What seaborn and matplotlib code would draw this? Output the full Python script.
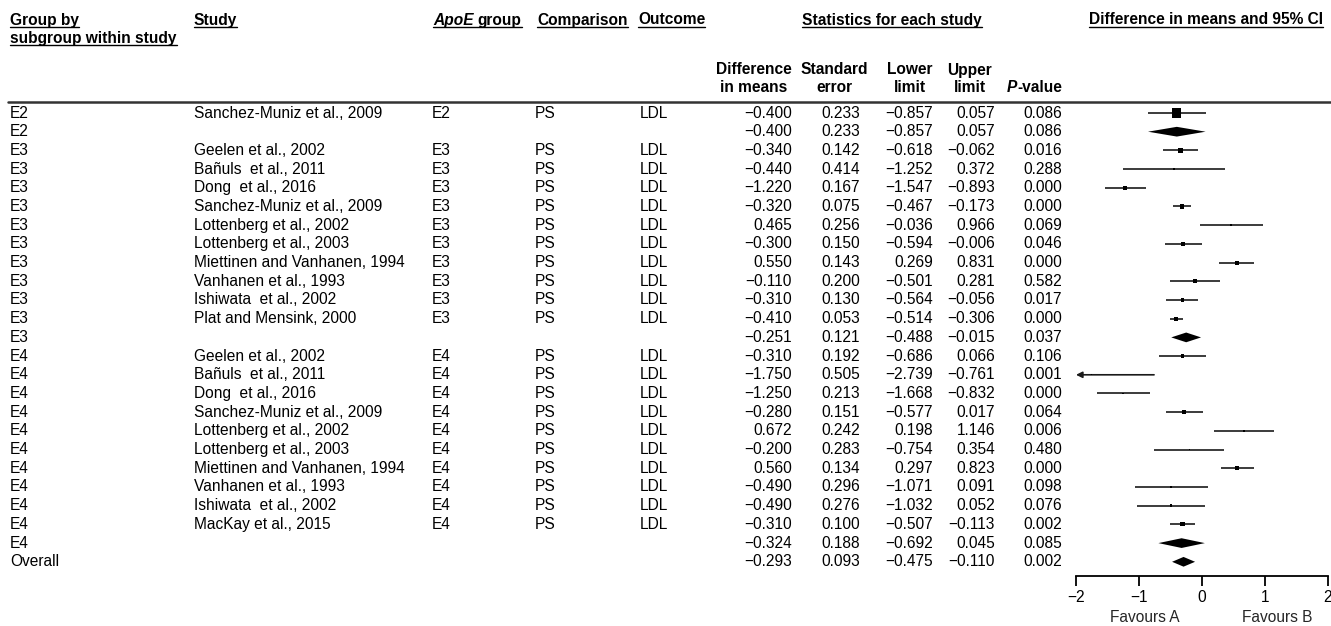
import matplotlib
matplotlib.use("Agg")
import matplotlib.pyplot as plt
import matplotlib.transforms as mtransforms
from matplotlib.patches import Polygon
from matplotlib.lines import Line2D
import pandas as pd
import seaborn as sns

# ---- data ----
groups = ["E2", "E2", "E3", "E3", "E3", "E3", "E3", "E3", "E3", "E3", "E3", "E3", "E3",
          "E4", "E4", "E4", "E4", "E4", "E4", "E4", "E4", "E4", "E4", "E4", "Overall"]
studies = ["Sanchez-Muniz et al., 2009", "",
           "Geelen et al., 2002", "Bañuls  et al., 2011", "Dong  et al., 2016",
           "Sanchez-Muniz et al., 2009", "Lottenberg et al., 2002", "Lottenberg et al., 2003",
           "Miettinen and Vanhanen, 1994", "Vanhanen et al., 1993", "Ishiwata  et al., 2002",
           "Plat and Mensink, 2000", "",
           "Geelen et al., 2002", "Bañuls  et al., 2011", "Dong  et al., 2016",
           "Sanchez-Muniz et al., 2009", "Lottenberg et al., 2002", "Lottenberg et al., 2003",
           "Miettinen and Vanhanen, 1994", "Vanhanen et al., 1993", "Ishiwata  et al., 2002",
           "MacKay et al., 2015", "", ""]
apoe = ["E2", ""] + ["E3"] * 10 + [""] + ["E4"] * 10 + ["", ""]
comparison = ["PS", ""] + ["PS"] * 10 + [""] + ["PS"] * 10 + ["", ""]
outcome = ["LDL", ""] + ["LDL"] * 10 + [""] + ["LDL"] * 10 + ["", ""]
diff = [-0.400, -0.400, -0.340, -0.440, -1.220, -0.320, 0.465, -0.300, 0.550, -0.110, -0.310,
        -0.410, -0.251, -0.310, -1.750, -1.250, -0.280, 0.672, -0.200, 0.560, -0.490, -0.490,
        -0.310, -0.324, -0.293]
se = [0.233, 0.233, 0.142, 0.414, 0.167, 0.075, 0.256, 0.150, 0.143, 0.200, 0.130, 0.053,
      0.121, 0.192, 0.505, 0.213, 0.151, 0.242, 0.283, 0.134, 0.296, 0.276, 0.100, 0.188, 0.093]
lower = [-0.857, -0.857, -0.618, -1.252, -1.547, -0.467, -0.036, -0.594, 0.269, -0.501, -0.564,
         -0.514, -0.488, -0.686, -2.739, -1.668, -0.577, 0.198, -0.754, 0.297, -1.071, -1.032,
         -0.507, -0.692, -0.475]
upper = [0.057, 0.057, -0.062, 0.372, -0.893, -0.173, 0.966, -0.006, 0.831, 0.281, -0.056,
         -0.306, -0.015, 0.066, -0.761, -0.832, 0.017, 1.146, 0.354, 0.823, 0.091, 0.052,
         -0.113, 0.045, -0.110]
pvals = [0.086, 0.086, 0.016, 0.288, 0.000, 0.000, 0.069, 0.046, 0.000, 0.582, 0.017, 0.000,
         0.037, 0.106, 0.001, 0.000, 0.064, 0.006, 0.480, 0.000, 0.098, 0.076, 0.002, 0.085,
         0.002]
is_summary = [False, True] + [False] * 10 + [True] + [False] * 10 + [True, True]
# relative box weights estimated from the square sizes (max = 100)
rel_weight = [100, 0, 22, 3, 20, 24, 4, 24, 18, 18, 16, 20, 0,
              18, 2, 3, 20, 6, 3, 20, 3, 7, 20, 0, 0]
axis_ticks = [-2, -1, 0, 1, 2]

df = pd.DataFrame({"group": groups, "study": studies, "apoe": apoe, "comparison": comparison,
                   "outcome": outcome, "diff": diff, "se": se, "lower": lower, "upper": upper,
                   "p": pvals, "summary": is_summary, "weight": rel_weight})
df["row"] = range(len(df))

sns.set_style("white")
plt.rcParams["font.family"] = ["Liberation Sans", "DejaVu Sans"]
FS = 11.2
INK = "#1a1a1a"

W, H = 1331, 626
fig = plt.figure(figsize=(W / 100, H / 100), dpi=100)


def fx(px):
    return px / W


def fy(py):
    return 1 - py / H


# forest axes: -2 at x=1076, 2 at x=1328; rows start at y=113, 18.7 px apart
row0, step = 113, 18.7
ax_top, ax_bot = 102, 576
ax = fig.add_axes([fx(1076), fy(ax_bot), fx(1328) - fx(1076), (ax_bot - ax_top) / H])
ax.set_xlim(axis_ticks[0], axis_ticks[-1])
ax.set_ylim((ax_bot - row0) / step, (ax_top - row0) / step)
ax.set_facecolor("none")

st = df[~df["summary"]]
xmin = axis_ticks[0]
for _, r in st.iterrows():
    lo = max(r["lower"], xmin)
    if r["lower"] < xmin:
        ax.annotate("", xy=(lo, r["row"]), xytext=(r["upper"], r["row"]),
                    arrowprops=dict(arrowstyle="-|>", color=INK, lw=1.2,
                                    mutation_scale=9, shrinkA=0, shrinkB=0))
    else:
        ax.hlines(r["row"], lo, r["upper"], color=INK, lw=1.2)

sns.scatterplot(data=st, x="diff", y="row", size="weight", sizes=(1.0, 44),
                size_norm=(2, 100), marker="s", color="black", edgecolor="none",
                legend=False, ax=ax, zorder=3)

for _, r in df[df["summary"]].iterrows():
    h = 0.26
    ax.add_patch(Polygon([(r["lower"], r["row"]), (r["diff"], r["row"] - h),
                          (r["upper"], r["row"]), (r["diff"], r["row"] + h)],
                         closed=True, color="black", lw=0))

for s in ["top", "right", "left"]:
    ax.spines[s].set_visible(False)
ax.spines["bottom"].set_color("black")
ax.spines["bottom"].set_linewidth(1.3)
ax.set_xticks(axis_ticks)
ax.set_xticklabels([f"{t}".replace("-", "\u2212") for t in axis_ticks], fontsize=FS)
ax.tick_params(axis="x", direction="out", length=7, width=1.3, pad=3, colors="black",
               bottom=True)
ax.set_yticks([])
ax.set_xlabel("")
ax.set_ylabel("")
fav = mtransforms.blended_transform_factory(ax.transData, fig.transFigure)
ax.text(-0.9, fy(617), "Favours A", transform=fav, ha="center", va="center", fontsize=FS)
ax.text(1.2, fy(617), "Favours B", transform=fav, ha="center", va="center", fontsize=FS)

# table columns: x in figure px, y in forest rows
tr = mtransforms.blended_transform_factory(fig.transFigure, ax.transData)


def num(v):
    return f"{v:.3f}".replace("-", "\u2212")


for _, r in df.iterrows():
    y = r["row"]
    kw = dict(transform=tr, va="center", fontsize=FS, color="black", clip_on=False)
    fig.text(fx(10), y, r["group"], ha="left", **kw)
    fig.text(fx(194), y, r["study"], ha="left", **kw)
    fig.text(fx(432), y, r["apoe"], ha="left", **kw)
    fig.text(fx(535), y, r["comparison"], ha="left", **kw)
    fig.text(fx(640), y, r["outcome"], ha="left", **kw)
    fig.text(fx(792), y, num(r["diff"]), ha="right", **kw)
    fig.text(fx(860), y, num(r["se"]), ha="right", **kw)
    fig.text(fx(933), y, num(r["lower"]), ha="right", **kw)
    fig.text(fx(995), y, num(r["upper"]), ha="right", **kw)
    fig.text(fx(1062), y, num(r["p"]), ha="right", **kw)

# headers
hb = dict(fontsize=FS, fontweight="bold", va="center", color="black")
under = []
under.append(fig.text(fx(10), fy(20), "Group by", ha="left", **hb))
under.append(fig.text(fx(10), fy(38), "subgroup within study", ha="left", **hb))
under.append(fig.text(fx(194), fy(20), "Study", ha="left", **hb))
apo = fig.text(fx(433), fy(20), "ApoE", ha="left", style="italic", **hb)
under.append(fig.text(fx(537), fy(20), "Comparison", ha="left", **hb))
under.append(fig.text(fx(638), fy(20), "Outcome", ha="left", **hb))
under.append(fig.text(fx(892), fy(20), "Statistics for each study", ha="center", **hb))
under.append(fig.text(fx(1206), fy(20), "Difference in means and 95% CI", ha="center", **hb))

for cx, top, bot in [(754, "Difference", "in means"), (834, "Standard", "error"),
                     (910, "Lower", "limit"), (970, "Upper", "limit")]:
    fig.text(fx(cx), fy(70), top, ha="center", **hb)
    fig.text(fx(cx), fy(87), bot, ha="center", **hb)
pv = fig.text(fx(1062), fy(87), "-value", ha="right", **hb)

fig.canvas.draw()
rend = fig.canvas.get_renderer()
bb = apo.get_window_extent(rend)
grp = fig.text(fx(bb.x1 + 4), fy(20), "group", ha="left", **hb)
bb = pv.get_window_extent(rend)
fig.text(fx(bb.x0), fy(87), "P", ha="right", style="italic", **hb)
fig.canvas.draw()

spans = [t.get_window_extent(rend) for t in under]
b1, b2 = apo.get_window_extent(rend), grp.get_window_extent(rend)
spans.append(mtransforms.Bbox([[b1.x0, b1.y0], [b2.x1, b2.y1]]))
for b in spans:
    yl = b.y0 + 1
    fig.add_artist(Line2D([b.x0 / W, b.x1 / W], [yl / H, yl / H], color="black", lw=1.0))

fig.add_artist(Line2D([fx(8), 1.0], [fy(102), fy(102)], color="#333333", lw=1.8))

fig.savefig("out.png", dpi=100)
